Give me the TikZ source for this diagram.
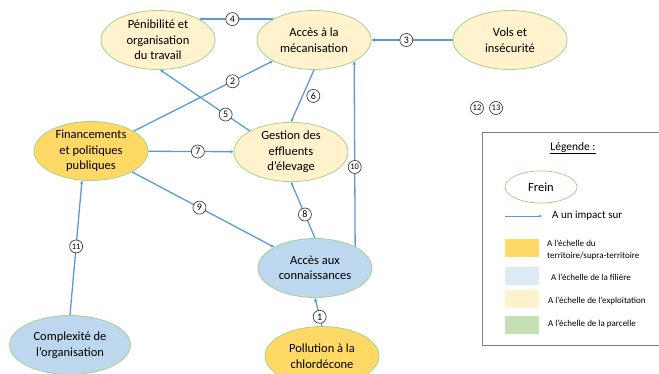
\documentclass[tikz,border=0pt]{standalone}
\usepackage{fontspec}
\setmainfont{Carlito}
\usetikzlibrary{shapes.geometric,arrows.meta}

\definecolor{cream}{HTML}{FFF2CC}
\definecolor{gold}{HTML}{FFD966}
\definecolor{skyblue}{HTML}{BDD7EE}
\definecolor{paleblue}{HTML}{DEEBF7}
\definecolor{leafgreen}{HTML}{C5E0B4}
\definecolor{rimgreen}{HTML}{A9D18E}
\definecolor{linkblue}{HTML}{5B9BD5}

\tikzset{
    frein/.style={ellipse, draw=rimgreen, line width=0.8pt, inner sep=0pt,
        minimum width=114pt, minimum height=59pt, align=center,
        font=\fontsize{12.5}{15.5}\selectfont},
    impact/.style={draw=linkblue, line width=1.3pt, -{Stealth[length=3.5pt,width=3.5pt]}},
    num/.style={circle, draw=black!75, line width=0.7pt, fill=white, inner sep=0pt,
        minimum size=13pt, font=\fontsize{10}{10}\selectfont},
    numtwo/.style={num, font=\fontsize{8.5}{8.5}\selectfont},
    swatch/.style={minimum width=34pt, minimum height=18pt, inner sep=0pt},
    legtext/.style={anchor=west, align=left, inner sep=0pt,
        font=\fontsize{9}{12}\selectfont}
}

\begin{document}
\begin{tikzpicture}[x=1pt, y=-1pt]
    \useasboundingbox (0,0) rectangle (659,374);
    % Define nodes
        \node[frein, fill=cream] (peni) at (158,40) {Pénibilité et\\organisation\\du travail};
        \node[frein, fill=cream] (meca) at (314,40) {Accès à la\\mécanisation};
        \node[frein, fill=cream] (vols) at (510,40) {Vols et\\insécurité};
        \node[frein, fill=gold] (fin) at (91,151) {Financements\\et politiques\\publiques};
        \node[frein, fill=cream] (gest) at (291,152) {Gestion des\\effluents\\d’élevage};
        \node[frein, fill=skyblue] (conn) at (315,268) {Accès aux\\connaissances};
        \node[frein, fill=skyblue, minimum width=121pt] (comp) at (70,345) {Complexité de\\l’organisation};
        \node[frein, fill=gold] (poll) at (322,356) {Pollution à la\\chlordécone};
        % Draw arrows
        \draw[impact] (poll.north) -- (conn.south) node[num, pos=0.33] {1};
        \draw[impact] (fin.25) -- (meca.207) node[num, pos=0.71] {2};
        \draw[impact] (vols) -- (meca) node[num, pos=0.57] {3};
        \draw[impact] (meca.153) -- (peni.27) node[num, pos=0.55] {4};
        \draw[impact] (gest.153) -- (peni.274) node[num, pos=0.27] {5};
        \draw[impact] (meca.south) -- (gest.north) node[num, midway, right=4pt] {6};
        \draw[impact] (fin) -- (gest) node[num, pos=0.58] {7};
        \draw[impact] (conn.north) -- (gest.south) node[num, pos=0.42] {8};
        \draw[impact] (fin.333) -- (conn.153) node[num, pos=0.475] {9};
        \draw[impact] (conn.28) -- (meca.332) node[numtwo, pos=0.43] {10};
        \draw[impact] (comp.north) -- (fin.253) node[numtwo, pos=0.51] {11};
        \node[numtwo] (n12) at (477,108) {12};
        \node[numtwo] (n13) at (496,108) {13};
    % Define legend
        \draw[draw=black!50, line width=0.8pt] (482,132) rectangle (680,345);
        \node[font=\fontsize{11.5}{13}\selectfont] (legtitle) at (573,148) {\underline{Légende :}};
        \node[ellipse, draw=rimgreen, line width=0.8pt, fill=white, minimum width=72pt,
            minimum height=32pt, font=\fontsize{12.5}{14}\selectfont] (legfrein) at (541,187) {Frein};
        \coordinate (legstart) at (505,216);
        \coordinate (legend) at (542,216);
        \draw[draw=linkblue, line width=0.9pt, -{Stealth[length=3pt,width=3pt]}] (legstart) -- (legend);
        \node[anchor=west, inner sep=0pt, font=\fontsize{11}{13}\selectfont] (legimpact) at (552,216) {A un impact sur};
        \node[swatch, fill=gold] (swgold) at (522,248) {};
        \node[swatch, fill=paleblue] (swblue) at (522,276) {};
        \node[swatch, fill=cream] (swcream) at (522,299) {};
        \node[swatch, fill=leafgreen] (swgreen) at (522,325) {};
        \node[legtext] (txgold) at (547,250) {A l’échelle du\\territoire/supra-territoire};
        \node[legtext] (txblue) at (551,277) {A l’échelle de la filière};
        \node[legtext] (txcream) at (548,301) {A l’échelle de l’exploitation};
        \node[legtext] (txgreen) at (548,324) {A l’échelle de la parcelle};
    \end{tikzpicture}
\end{document}
